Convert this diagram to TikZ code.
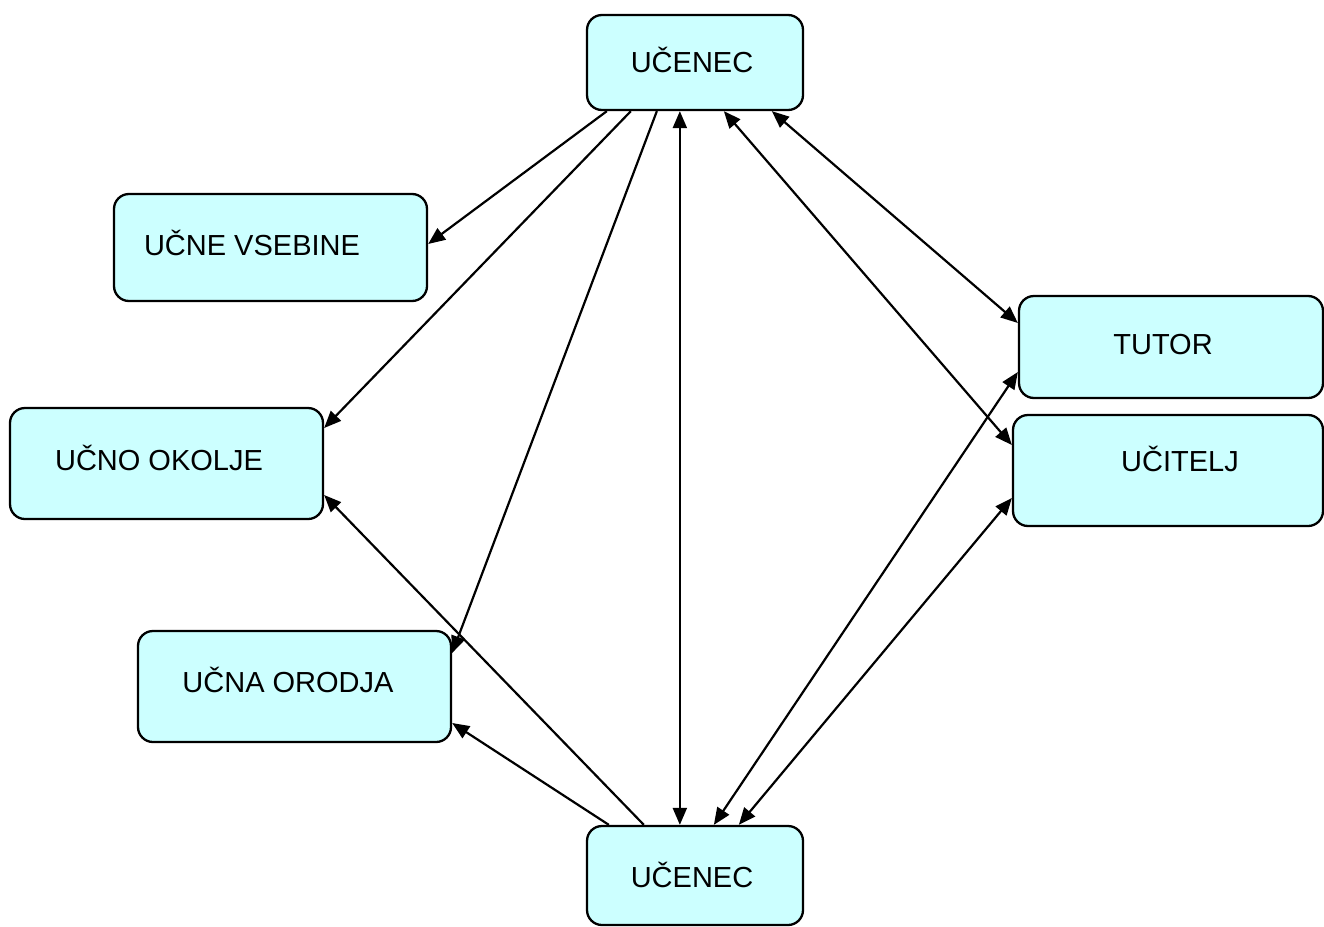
\documentclass[tikz,border=0pt]{standalone}
\usepackage{fontspec}
\setmainfont{Liberation Sans}
\usetikzlibrary{arrows.meta}
\definecolor{boxfill}{HTML}{CCFFFF}
\tikzset{
  box/.style={draw=black, line width=2.3pt, fill=boxfill, rounded corners=15pt, inner sep=0pt},
  lbl/.style={inner sep=0pt, font=\fontsize{29}{34}\selectfont},
  conn/.style={line width=2.2pt, -{Triangle[length=17pt,width=14pt]}},
  bconn/.style={line width=2.2pt, {Triangle[length=17pt,width=14pt]}-{Triangle[length=17pt,width=14pt]}}
}
\begin{document}
\begin{tikzpicture}[x=1pt,y=-1pt]
\useasboundingbox (0,0) rectangle (1324,926);
\fill[white] (0,0) rectangle (1324,926);
% boxes
\node[box, minimum width=216pt, minimum height=95pt] (top) at (695,62.5) {};
\node[box, minimum width=313pt, minimum height=107pt] (vs) at (270.5,247.5) {};
\node[box, minimum width=313pt, minimum height=111pt] (ok) at (166.5,463.5) {};
\node[box, minimum width=313pt, minimum height=111pt] (or) at (294.5,686.5) {};
\node[box, minimum width=216pt, minimum height=99pt] (bot) at (695,875.5) {};
\node[box, minimum width=304pt, minimum height=102pt] (tu) at (1171,347) {};
\node[box, minimum width=310pt, minimum height=111pt] (uc) at (1168,470.5) {};
% labels
\node[lbl] (ttop) at (692,60) {UČENEC};
\node[lbl] (tvs) at (252,243) {UČNE VSEBINE};
\node[lbl] (tok) at (159,458) {UČNO OKOLJE};
\node[lbl] (tor) at (288,680) {UČNA ORODJA};
\node[lbl] (tbot) at (692,875) {UČENEC};
\node[lbl] (ttu) at (1163,345) {TUTOR};
\node[lbl] (tuc) at (1180,459) {UČITELJ};
% connectors from top
\draw[conn] ([xshift=21pt]top.south west) -- ([yshift=3.5pt]vs.east);
\draw[conn] ([xshift=45pt]top.south west) -- ([yshift=35.5pt]ok.east);
\draw[conn] ([xshift=71pt]top.south west) -- ([yshift=33.5pt]or.east);
\draw[bconn] ([xshift=94pt]top.south west) -- ([xshift=94pt]bot.north west);
\draw[bconn] ([xshift=138pt]top.south west) -- ([yshift=25.5pt]uc.west);
\draw[bconn] ([xshift=186pt]top.south west) -- ([yshift=24pt]tu.west);
% connectors from bottom
\draw[bconn] ([xshift=128pt]bot.north west) -- ([yshift=-25pt]tu.west);
\draw[bconn] ([xshift=153pt]bot.north west) -- ([yshift=-27.5pt]uc.west);
\draw[conn] ([xshift=58pt]bot.north west) -- ([yshift=-31.5pt]ok.east);
\draw[conn] ([xshift=23pt]bot.north west) -- ([yshift=-36.5pt]or.east);
\end{tikzpicture}
\end{document}
